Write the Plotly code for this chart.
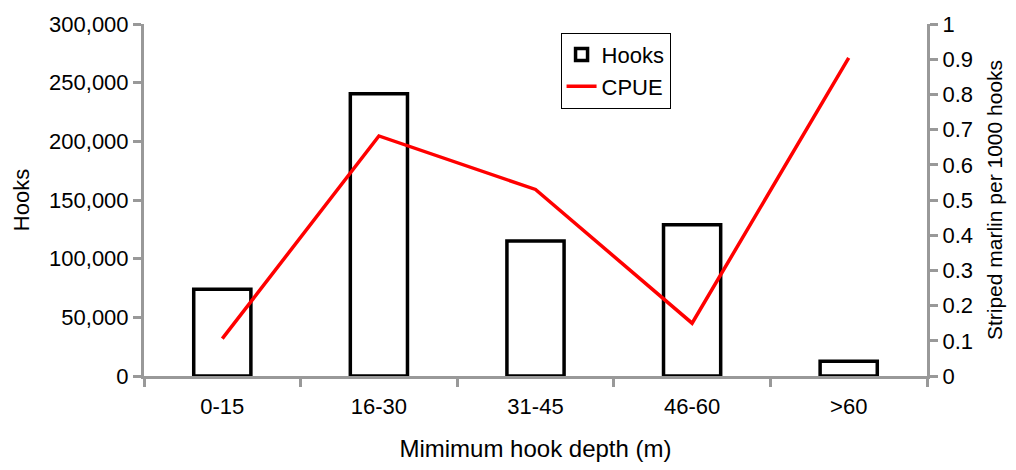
import plotly.graph_objects as go

categories = ["0-15", "16-30", "31-45", "46-60", ">60"]
hooks = [74000, 240500, 115000, 129000, 12600]
cpue = [0.106, 0.682, 0.530, 0.150, 0.904]

FONT = "Liberation Sans, Arial, sans-serif"
GRAY = "#999999"

fig = go.Figure()
fig.add_trace(go.Bar(
    x=categories, y=hooks, name="Hooks",
    marker=dict(color="white", line=dict(color="black", width=3.5)),
    yaxis="y",
))
fig.add_trace(go.Scatter(
    x=categories, y=cpue, name="CPUE", mode="lines",
    line=dict(color="#ff0000", width=3.5),
    yaxis="y2",
))

fig.update_layout(
    width=1016, height=470,
    margin=dict(l=144, r=86, t=19, b=93),
    plot_bgcolor="white", paper_bgcolor="white",
    font=dict(family=FONT, size=22, color="black"),
    bargap=0.635,
    showlegend=True,
    legend=dict(
        x=0.532, y=0.975, xanchor="left", yanchor="top",
        bordercolor="black", borderwidth=1, bgcolor="white",
        font=dict(size=22), tracegroupgap=0, itemwidth=30,
    ),
    xaxis=dict(
        title=dict(text="Mimimum hook depth (m)", font=dict(size=24), standoff=22),
        showline=True, linecolor=GRAY, linewidth=3,
        ticks="outside", tickson="boundaries", ticklen=8, tickwidth=2.5, tickcolor=GRAY,
        ticklabelstandoff=9,
        showgrid=False, zeroline=False,
    ),
    yaxis=dict(
        title=dict(text="Hooks", font=dict(size=22), standoff=14),
        range=[0, 300000], dtick=50000, tickformat=",",
        showline=True, linecolor=GRAY, linewidth=3,
        ticks="outside", ticklen=8, tickwidth=2.5, tickcolor=GRAY,
        showgrid=False, zeroline=False,
    ),
    yaxis2=dict(
        title=dict(text="Striped marlin per 1000 hooks", font=dict(size=21), standoff=16),
        overlaying="y", side="right",
        range=[0, 1], dtick=0.1, tickformat="~g",
        showline=True, linecolor=GRAY, linewidth=3,
        ticks="outside", ticklen=8, tickwidth=2.5, tickcolor=GRAY,
        showgrid=False, zeroline=False,
    ),
)

fig.write_html("out.html")
